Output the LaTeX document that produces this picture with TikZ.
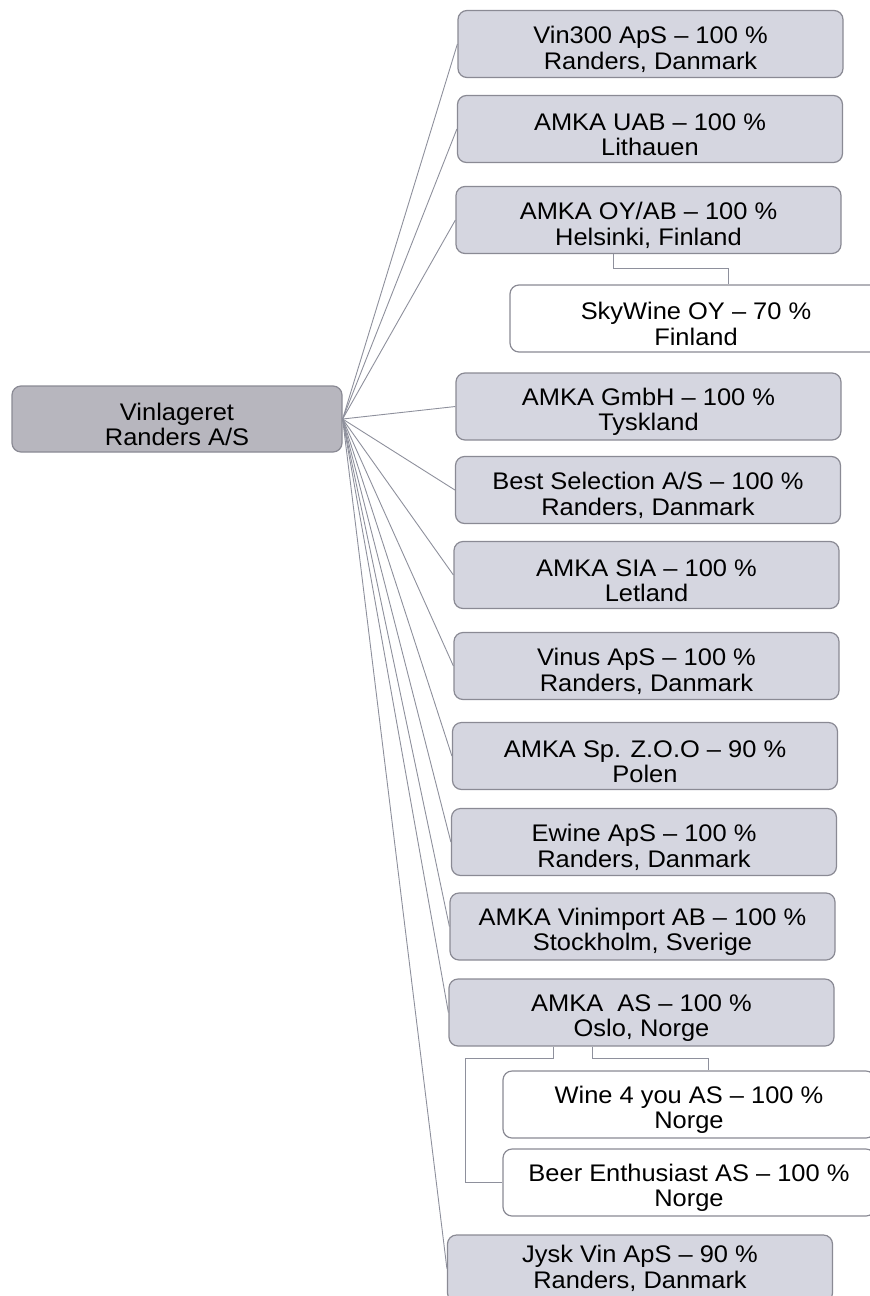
\documentclass[tikz,border=0pt]{standalone}
\usepackage{fontspec}
\setmainfont{Liberation Sans}[FakeStretch=1.06]
\definecolor{childfill}{HTML}{D5D6E0}
\definecolor{rootfill}{HTML}{B7B6BE}
\definecolor{edgecol}{HTML}{8A8A94}
\definecolor{linecol}{HTML}{8E909C}
\newcommand{\tstrut}{\rule{0pt}{28pt}}
\begin{document}
\begin{tikzpicture}[x=1pt,y=-1pt,
  box/.style={draw=edgecol, line width=1.2pt, rounded corners=9pt, minimum width=385pt,
    minimum height=67pt, align=center, inner sep=0pt, font=\fontsize{24}{25.5}\selectfont},
  sub/.style={box, fill=childfill},
  subsub/.style={box, fill=white, minimum width=372pt},
  rootbox/.style={box, fill=rootfill, minimum width=330pt, minimum height=66pt},
  link/.style={draw=linecol, line width=0.9pt}]
\useasboundingbox (0,0) rectangle (870,1296);
\clip (0,0) rectangle (870,1296);

\node[rootbox] (root) at (177,419) {\tstrut Vinlageret\\Randers A/S};

\node[sub] (vin300) at (650.5,44) {\tstrut Vin300 ApS – 100 \%\\Randers, Danmark};
\node[sub] (uab) at (650,129) {\tstrut AMKA UAB – 100 \%\\Lithauen};
\node[sub] (oy) at (648.5,220) {\tstrut AMKA OY/AB – 100 \%\\Helsinki, Finland};
\node[subsub] (sky) at (696,318.5) {\tstrut SkyWine OY – 70 \%\\Finland};
\node[sub] (gmbh) at (648.5,406.5) {\tstrut AMKA GmbH – 100 \%\\Tyskland};
\node[sub] (best) at (648,490) {\tstrut Best Selection A/S – 100 \%\\Randers, Danmark};
\node[sub] (sia) at (646.5,575) {\tstrut AMKA SIA – 100 \%\\Letland};
\node[sub] (vinus) at (646.5,666) {\tstrut Vinus ApS – 100 \%\\Randers, Danmark};
\node[sub] (sp) at (645,756) {\tstrut AMKA Sp. Z.O.O – 90 \%\\Polen};
\node[sub] (ewine) at (644,842) {\tstrut Ewine ApS – 100 \%\\Randers, Danmark};
\node[sub] (vinimp) at (642.5,926.5) {\tstrut AMKA Vinimport AB – 100 \%\\Stockholm, Sverige};
\node[sub] (as) at (641.5,1012.5) {\tstrut AMKA \ AS – 100 \%\\Oslo, Norge};
\node[subsub] (w4y) at (689,1104.5) {\tstrut Wine 4 you AS – 100 \%\\Norge};
\node[subsub] (beer) at (689,1182.5) {\tstrut Beer Enthusiast AS – 100 \%\\Norge};
\node[sub] (jysk) at (640,1268.5) {Jysk Vin ApS – 90 \%\\Randers, Danmark};

\foreach \n in {vin300,uab,oy,gmbh,best,sia,vinus,sp,ewine,vinimp,as,jysk}
  \draw[link] (root.east) -- (\n.west);

\coordinate (e1) at (613,268);
\coordinate (e2) at (728,268);
\draw[link] (e1 |- oy.south) -- (e1) -- (e2) -- (e2 |- sky.north);

\coordinate (f1) at (592,1058);
\coordinate (f2) at (708,1058);
\draw[link] (f1 |- as.south) -- (f1) -- (f2) -- (f2 |- w4y.north);

\coordinate (g1) at (553,1058);
\coordinate (g2) at (465,1058);
\draw[link] (g1 |- as.south) -- (g1) -- (g2) -- (g2 |- beer.west) -- (beer.west);
\end{tikzpicture}
\end{document}
